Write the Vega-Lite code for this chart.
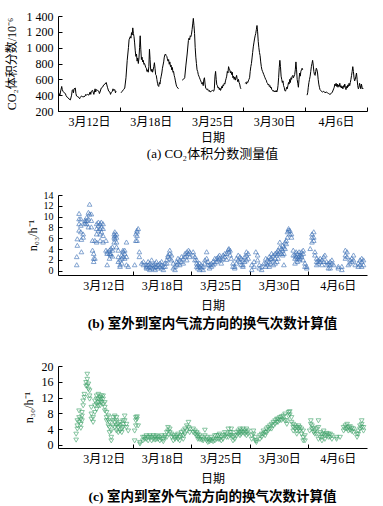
{
"$schema":"https://vega.github.io/schema/vega-lite/v6.json",
"padding":{"left":5,"top":10,"right":5,"bottom":5},
"spacing":29,
"config":{"font":"Liberation Serif, Noto Sans CJK SC","view":{"stroke":null},
 "axis":{"grid":false,"domainColor":"#000","tickColor":"#000","labelColor":"#000","titleColor":"#000","labelFontSize":12,"titleFontSize":12,"titleFontWeight":"normal","tickSize":-4,"labelPadding":9,"domainWidth":1,"tickWidth":1,"labelOverlap":false,"labelFlush":false,"labelBound":false},
 "title":{"color":"#000"}},
"datasets":{
"co2":[
{"seg":1,"s":0.00,"v":410},{"seg":1,"s":0.02,"v":420},{"seg":1,"s":0.03,"v":395},{"seg":1,"s":0.04,"v":440},{"seg":1,"s":0.06,"v":510},{"seg":1,"s":0.07,"v":470},{"seg":1,"s":0.08,"v":450},{"seg":1,"s":0.10,"v":430},{"seg":1,"s":0.12,"v":420},{"seg":1,"s":0.13,"v":395},{"seg":1,"s":0.14,"v":380},{"seg":1,"s":0.16,"v":370},{"seg":1,"s":0.18,"v":350},{"seg":1,"s":0.20,"v":340},{"seg":1,"s":0.22,"v":400},{"seg":1,"s":0.23,"v":460},{"seg":1,"s":0.24,"v":470},{"seg":1,"s":0.25,"v":430},{"seg":1,"s":0.26,"v":480},{"seg":1,"s":0.28,"v":490},{"seg":1,"s":0.29,"v":420},{"seg":1,"s":0.30,"v":390},{"seg":1,"s":0.32,"v":380},{"seg":1,"s":0.34,"v":370},{"seg":1,"s":0.35,"v":355},{"seg":1,"s":0.36,"v":370},{"seg":1,"s":0.38,"v":390},{"seg":1,"s":0.40,"v":380},{"seg":1,"s":0.42,"v":380},{"seg":1,"s":0.44,"v":390},{"seg":1,"s":0.45,"v":410},{"seg":1,"s":0.46,"v":400},{"seg":1,"s":0.48,"v":410},{"seg":1,"s":0.50,"v":400},{"seg":1,"s":0.52,"v":440},{"seg":1,"s":0.53,"v":410},{"seg":1,"s":0.54,"v":450},{"seg":1,"s":0.56,"v":460},{"seg":1,"s":0.58,"v":410},{"seg":1,"s":0.60,"v":480},{"seg":1,"s":0.61,"v":440},{"seg":1,"s":0.62,"v":470},{"seg":1,"s":0.64,"v":460},{"seg":1,"s":0.66,"v":450},{"seg":1,"s":0.67,"v":420},{"seg":1,"s":0.68,"v":440},{"seg":1,"s":0.70,"v":490},{"seg":1,"s":0.72,"v":500},{"seg":1,"s":0.74,"v":530},{"seg":1,"s":0.76,"v":540},{"seg":1,"s":0.78,"v":560},{"seg":1,"s":0.80,"v":500},{"seg":1,"s":0.82,"v":450},{"seg":1,"s":0.84,"v":440},{"seg":1,"s":0.85,"v":410},{"seg":1,"s":0.86,"v":430},{"seg":1,"s":0.88,"v":450},{"seg":1,"s":0.89,"v":480},{"seg":1,"s":0.90,"v":460},{"seg":1,"s":0.92,"v":470},{"seg":1,"s":0.93,"v":430},{"seg":1,"s":0.94,"v":450},
{"seg":2,"s":1.02,"v":430},{"seg":2,"s":1.04,"v":450},{"seg":2,"s":1.06,"v":470},{"seg":2,"s":1.08,"v":490},{"seg":2,"s":1.10,"v":620},{"seg":2,"s":1.12,"v":840},{"seg":2,"s":1.14,"v":1000},{"seg":2,"s":1.15,"v":1100},{"seg":2,"s":1.17,"v":1140},{"seg":2,"s":1.18,"v":1120},{"seg":2,"s":1.19,"v":1190},{"seg":2,"s":1.20,"v":1160},{"seg":2,"s":1.21,"v":1250},{"seg":2,"s":1.22,"v":1180},{"seg":2,"s":1.23,"v":1140},{"seg":2,"s":1.24,"v":1060},{"seg":2,"s":1.25,"v":960},{"seg":2,"s":1.26,"v":890},{"seg":2,"s":1.27,"v":920},{"seg":2,"s":1.28,"v":830},{"seg":2,"s":1.29,"v":870},{"seg":2,"s":1.30,"v":800},{"seg":2,"s":1.31,"v":870},{"seg":2,"s":1.32,"v":1000},{"seg":2,"s":1.33,"v":1150},{"seg":2,"s":1.34,"v":980},{"seg":2,"s":1.35,"v":850},{"seg":2,"s":1.36,"v":880},{"seg":2,"s":1.37,"v":820},{"seg":2,"s":1.38,"v":840},{"seg":2,"s":1.39,"v":790},{"seg":2,"s":1.40,"v":800},{"seg":2,"s":1.42,"v":750},{"seg":2,"s":1.43,"v":740},{"seg":2,"s":1.44,"v":700},{"seg":2,"s":1.45,"v":720},{"seg":2,"s":1.46,"v":690},{"seg":2,"s":1.47,"v":760},{"seg":2,"s":1.48,"v":980},{"seg":2,"s":1.49,"v":850},{"seg":2,"s":1.50,"v":720},{"seg":2,"s":1.51,"v":700},{"seg":2,"s":1.52,"v":730},{"seg":2,"s":1.53,"v":690},{"seg":2,"s":1.54,"v":720},{"seg":2,"s":1.55,"v":760},{"seg":2,"s":1.56,"v":810},{"seg":2,"s":1.57,"v":740},{"seg":2,"s":1.58,"v":660},{"seg":2,"s":1.59,"v":650},{"seg":2,"s":1.60,"v":600},{"seg":2,"s":1.61,"v":550},{"seg":2,"s":1.62,"v":520},{"seg":2,"s":1.63,"v":510},{"seg":2,"s":1.64,"v":560},{"seg":2,"s":1.65,"v":540},{"seg":2,"s":1.66,"v":600},{"seg":2,"s":1.67,"v":640},{"seg":2,"s":1.68,"v":680},{"seg":2,"s":1.69,"v":740},{"seg":2,"s":1.70,"v":780},{"seg":2,"s":1.71,"v":820},{"seg":2,"s":1.72,"v":880},{"seg":2,"s":1.73,"v":910},{"seg":2,"s":1.74,"v":920},{"seg":2,"s":1.75,"v":900},{"seg":2,"s":1.76,"v":890},{"seg":2,"s":1.77,"v":860},{"seg":2,"s":1.78,"v":830},{"seg":2,"s":1.79,"v":850},{"seg":2,"s":1.80,"v":790},{"seg":2,"s":1.81,"v":820},{"seg":2,"s":1.82,"v":760},{"seg":2,"s":1.83,"v":780},{"seg":2,"s":1.84,"v":720},{"seg":2,"s":1.85,"v":750},{"seg":2,"s":1.86,"v":690},{"seg":2,"s":1.87,"v":700},{"seg":2,"s":1.88,"v":650},{"seg":2,"s":1.89,"v":620},{"seg":2,"s":1.90,"v":580},{"seg":2,"s":1.91,"v":540},{"seg":2,"s":1.92,"v":510},{"seg":2,"s":1.94,"v":490},{"seg":2,"s":1.95,"v":480},
{"seg":3,"s":2.01,"v":590},{"seg":3,"s":2.03,"v":600},{"seg":3,"s":2.05,"v":620},{"seg":3,"s":2.07,"v":780},{"seg":3,"s":2.09,"v":920},{"seg":3,"s":2.11,"v":1090},{"seg":3,"s":2.12,"v":1120},{"seg":3,"s":2.13,"v":1100},{"seg":3,"s":2.14,"v":1150},{"seg":3,"s":2.15,"v":1140},{"seg":3,"s":2.16,"v":1170},{"seg":3,"s":2.17,"v":1230},{"seg":3,"s":2.18,"v":1300},{"seg":3,"s":2.19,"v":1370},{"seg":3,"s":2.20,"v":1280},{"seg":3,"s":2.21,"v":1180},{"seg":3,"s":2.22,"v":1000},{"seg":3,"s":2.23,"v":880},{"seg":3,"s":2.24,"v":800},{"seg":3,"s":2.25,"v":720},{"seg":3,"s":2.26,"v":700},{"seg":3,"s":2.27,"v":660},{"seg":3,"s":2.28,"v":640},{"seg":3,"s":2.29,"v":620},{"seg":3,"s":2.30,"v":600},{"seg":3,"s":2.31,"v":580},{"seg":3,"s":2.32,"v":560},{"seg":3,"s":2.33,"v":540},{"seg":3,"s":2.34,"v":560},{"seg":3,"s":2.35,"v":520},{"seg":3,"s":2.36,"v":600},{"seg":3,"s":2.37,"v":620},{"seg":3,"s":2.38,"v":540},{"seg":3,"s":2.39,"v":490},{"seg":3,"s":2.40,"v":480},{"seg":3,"s":2.41,"v":470},{"seg":3,"s":2.42,"v":480},{"seg":3,"s":2.43,"v":460},{"seg":3,"s":2.44,"v":450},{"seg":3,"s":2.45,"v":460},{"seg":3,"s":2.46,"v":440},{"seg":3,"s":2.48,"v":450},{"seg":3,"s":2.50,"v":460},{"seg":3,"s":2.52,"v":450},{"seg":3,"s":2.53,"v":480},{"seg":3,"s":2.54,"v":640},{"seg":3,"s":2.55,"v":700},{"seg":3,"s":2.56,"v":600},{"seg":3,"s":2.57,"v":530},{"seg":3,"s":2.58,"v":520},{"seg":3,"s":2.59,"v":490},{"seg":3,"s":2.60,"v":500},{"seg":3,"s":2.61,"v":470},{"seg":3,"s":2.62,"v":490},{"seg":3,"s":2.63,"v":460},{"seg":3,"s":2.64,"v":480},{"seg":3,"s":2.65,"v":510},{"seg":3,"s":2.66,"v":490},{"seg":3,"s":2.67,"v":530},{"seg":3,"s":2.68,"v":520},{"seg":3,"s":2.69,"v":550},{"seg":3,"s":2.70,"v":540},{"seg":3,"s":2.71,"v":580},{"seg":3,"s":2.72,"v":610},{"seg":3,"s":2.73,"v":640},{"seg":3,"s":2.74,"v":700},{"seg":3,"s":2.75,"v":680},{"seg":3,"s":2.76,"v":760},{"seg":3,"s":2.77,"v":730},{"seg":3,"s":2.78,"v":720},{"seg":3,"s":2.79,"v":680},{"seg":3,"s":2.80,"v":700},{"seg":3,"s":2.81,"v":660},{"seg":3,"s":2.82,"v":690},{"seg":3,"s":2.83,"v":620},{"seg":3,"s":2.84,"v":640},{"seg":3,"s":2.85,"v":600},{"seg":3,"s":2.86,"v":630},{"seg":3,"s":2.87,"v":590},{"seg":3,"s":2.88,"v":620},{"seg":3,"s":2.89,"v":650},{"seg":3,"s":2.90,"v":600},{"seg":3,"s":2.91,"v":570},{"seg":3,"s":2.92,"v":600},{"seg":3,"s":2.93,"v":560},{"seg":3,"s":2.94,"v":540},{"seg":3,"s":2.95,"v":500},{"seg":3,"s":2.96,"v":480},
{"seg":4,"s":3.03,"v":550},{"seg":4,"s":3.04,"v":560},{"seg":4,"s":3.05,"v":540},{"seg":4,"s":3.06,"v":570},{"seg":4,"s":3.07,"v":560},{"seg":4,"s":3.08,"v":580},{"seg":4,"s":3.09,"v":600},{"seg":4,"s":3.10,"v":620},{"seg":4,"s":3.11,"v":700},{"seg":4,"s":3.12,"v":760},{"seg":4,"s":3.13,"v":800},{"seg":4,"s":3.14,"v":870},{"seg":4,"s":3.15,"v":940},{"seg":4,"s":3.16,"v":1010},{"seg":4,"s":3.17,"v":1060},{"seg":4,"s":3.18,"v":1110},{"seg":4,"s":3.19,"v":1150},{"seg":4,"s":3.20,"v":1180},{"seg":4,"s":3.21,"v":1230},{"seg":4,"s":3.22,"v":1280},{"seg":4,"s":3.23,"v":1200},{"seg":4,"s":3.24,"v":1080},{"seg":4,"s":3.25,"v":1000},{"seg":4,"s":3.26,"v":940},{"seg":4,"s":3.27,"v":900},{"seg":4,"s":3.28,"v":820},{"seg":4,"s":3.29,"v":760},{"seg":4,"s":3.30,"v":720},{"seg":4,"s":3.31,"v":700},{"seg":4,"s":3.32,"v":680},{"seg":4,"s":3.33,"v":660},{"seg":4,"s":3.34,"v":640},{"seg":4,"s":3.35,"v":620},{"seg":4,"s":3.36,"v":600},{"seg":4,"s":3.37,"v":590},{"seg":4,"s":3.38,"v":560},{"seg":4,"s":3.39,"v":550},{"seg":4,"s":3.40,"v":530},{"seg":4,"s":3.41,"v":540},{"seg":4,"s":3.42,"v":510},{"seg":4,"s":3.43,"v":520},{"seg":4,"s":3.44,"v":490},{"seg":4,"s":3.45,"v":500},{"seg":4,"s":3.46,"v":470},{"seg":4,"s":3.47,"v":460},{"seg":4,"s":3.48,"v":450},{"seg":4,"s":3.49,"v":460},{"seg":4,"s":3.50,"v":440},{"seg":4,"s":3.51,"v":450},{"seg":4,"s":3.52,"v":440},{"seg":4,"s":3.53,"v":460},{"seg":4,"s":3.54,"v":440},{"seg":4,"s":3.55,"v":460},{"seg":4,"s":3.56,"v":520},{"seg":4,"s":3.57,"v":620},{"seg":4,"s":3.58,"v":750},{"seg":4,"s":3.59,"v":840},{"seg":4,"s":3.60,"v":760},{"seg":4,"s":3.61,"v":640},{"seg":4,"s":3.62,"v":600},{"seg":4,"s":3.63,"v":560},{"seg":4,"s":3.64,"v":580},{"seg":4,"s":3.65,"v":520},{"seg":4,"s":3.66,"v":500},{"seg":4,"s":3.67,"v":460},{"seg":4,"s":3.68,"v":450},{"seg":4,"s":3.69,"v":470},{"seg":4,"s":3.70,"v":500},{"seg":4,"s":3.71,"v":480},{"seg":4,"s":3.72,"v":520},{"seg":4,"s":3.73,"v":560},{"seg":4,"s":3.74,"v":540},{"seg":4,"s":3.75,"v":600},{"seg":4,"s":3.76,"v":560},{"seg":4,"s":3.77,"v":620},{"seg":4,"s":3.78,"v":600},{"seg":4,"s":3.79,"v":640},{"seg":4,"s":3.80,"v":650},{"seg":4,"s":3.81,"v":620},{"seg":4,"s":3.82,"v":640},{"seg":4,"s":3.83,"v":660},{"seg":4,"s":3.84,"v":720},{"seg":4,"s":3.85,"v":820},{"seg":4,"s":3.86,"v":720},{"seg":4,"s":3.87,"v":600},{"seg":4,"s":3.88,"v":550},{"seg":4,"s":3.89,"v":500},{"seg":4,"s":3.90,"v":600},{"seg":4,"s":3.91,"v":680},{"seg":4,"s":3.92,"v":640},{"seg":4,"s":3.93,"v":700},{"seg":4,"s":3.94,"v":720},{"seg":4,"s":3.95,"v":740},{"seg":4,"s":3.96,"v":720},
{"seg":5,"s":4.03,"v":400},{"seg":5,"s":4.04,"v":430},{"seg":5,"s":4.05,"v":500},{"seg":5,"s":4.06,"v":560},{"seg":5,"s":4.07,"v":600},{"seg":5,"s":4.08,"v":640},{"seg":5,"s":4.09,"v":700},{"seg":5,"s":4.10,"v":760},{"seg":5,"s":4.11,"v":800},{"seg":5,"s":4.12,"v":840},{"seg":5,"s":4.13,"v":780},{"seg":5,"s":4.14,"v":700},{"seg":5,"s":4.15,"v":660},{"seg":5,"s":4.16,"v":650},{"seg":5,"s":4.17,"v":700},{"seg":5,"s":4.18,"v":740},{"seg":5,"s":4.19,"v":720},{"seg":5,"s":4.20,"v":680},{"seg":5,"s":4.21,"v":600},{"seg":5,"s":4.22,"v":540},{"seg":5,"s":4.23,"v":500},{"seg":5,"s":4.24,"v":470},{"seg":5,"s":4.25,"v":460},{"seg":5,"s":4.26,"v":450},{"seg":5,"s":4.28,"v":440},{"seg":5,"s":4.30,"v":450},{"seg":5,"s":4.32,"v":430},{"seg":5,"s":4.34,"v":440},{"seg":5,"s":4.36,"v":430},{"seg":5,"s":4.38,"v":420},{"seg":5,"s":4.40,"v":410},{"seg":5,"s":4.42,"v":420},{"seg":5,"s":4.44,"v":440},{"seg":5,"s":4.46,"v":480},{"seg":5,"s":4.47,"v":500},{"seg":5,"s":4.48,"v":540},{"seg":5,"s":4.49,"v":520},{"seg":5,"s":4.50,"v":550},{"seg":5,"s":4.51,"v":510},{"seg":5,"s":4.52,"v":540},{"seg":5,"s":4.53,"v":500},{"seg":5,"s":4.54,"v":530},{"seg":5,"s":4.55,"v":510},{"seg":5,"s":4.56,"v":550},{"seg":5,"s":4.57,"v":500},{"seg":5,"s":4.58,"v":520},{"seg":5,"s":4.59,"v":490},{"seg":5,"s":4.60,"v":510},{"seg":5,"s":4.61,"v":480},{"seg":5,"s":4.62,"v":520},{"seg":5,"s":4.63,"v":500},{"seg":5,"s":4.64,"v":540},{"seg":5,"s":4.65,"v":500},{"seg":5,"s":4.66,"v":470},{"seg":5,"s":4.67,"v":510},{"seg":5,"s":4.68,"v":490},{"seg":5,"s":4.69,"v":530},{"seg":5,"s":4.70,"v":510},{"seg":5,"s":4.71,"v":550},{"seg":5,"s":4.72,"v":520},{"seg":5,"s":4.73,"v":560},{"seg":5,"s":4.74,"v":600},{"seg":5,"s":4.75,"v":650},{"seg":5,"s":4.76,"v":700},{"seg":5,"s":4.77,"v":760},{"seg":5,"s":4.78,"v":700},{"seg":5,"s":4.79,"v":620},{"seg":5,"s":4.80,"v":580},{"seg":5,"s":4.81,"v":600},{"seg":5,"s":4.82,"v":640},{"seg":5,"s":4.83,"v":680},{"seg":5,"s":4.84,"v":600},{"seg":5,"s":4.85,"v":520},{"seg":5,"s":4.86,"v":480},{"seg":5,"s":4.87,"v":500},{"seg":5,"s":4.88,"v":550},{"seg":5,"s":4.89,"v":520},{"seg":5,"s":4.90,"v":480},{"seg":5,"s":4.91,"v":540},{"seg":5,"s":4.92,"v":500},{"seg":5,"s":4.93,"v":480},{"seg":5,"s":4.94,"v":490}
],
"n03":[
{"s":0.04,"n":1.1},{"s":0.04,"n":2.6},{"s":0.05,"n":4.7},{"s":0.05,"n":5.9},{"s":0.08,"n":7.5},{"s":0.08,"n":8.7},{"s":0.08,"n":9.6},{"s":0.08,"n":10.6},{"s":0.11,"n":9.6},{"s":0.11,"n":8.4},{"s":0.11,"n":7.2},{"s":0.12,"n":3.5},{"s":0.12,"n":5.8},{"s":0.15,"n":6.8},{"s":0.15,"n":6.2},{"s":0.18,"n":8.7},{"s":0.18,"n":9.3},{"s":0.18,"n":9.0},{"s":0.21,"n":9.3},{"s":0.21,"n":8.7},{"s":0.21,"n":9.9},{"s":0.24,"n":10.8},{"s":0.24,"n":9.6},{"s":0.24,"n":8.1},{"s":0.26,"n":12.3},{"s":0.26,"n":10.5},{"s":0.29,"n":10.5},{"s":0.29,"n":9.3},{"s":0.29,"n":8.1},{"s":0.31,"n":5.6},{"s":0.31,"n":3.8},{"s":0.33,"n":3.2},{"s":0.33,"n":2.3},{"s":0.33,"n":1.7},{"s":0.35,"n":5.6},{"s":0.35,"n":2.3},{"s":0.38,"n":8.7},{"s":0.38,"n":7.8},{"s":0.38,"n":6.8},{"s":0.38,"n":5.3},{"s":0.41,"n":9.0},{"s":0.41,"n":8.4},{"s":0.41,"n":7.5},{"s":0.44,"n":8.7},{"s":0.44,"n":7.8},{"s":0.44,"n":6.8},{"s":0.44,"n":5.6},{"s":0.46,"n":9.0},{"s":0.46,"n":8.1},{"s":0.46,"n":7.2},{"s":0.49,"n":8.7},{"s":0.49,"n":7.8},{"s":0.49,"n":6.5},{"s":0.49,"n":5.3},{"s":0.54,"n":5.6},{"s":0.54,"n":3.8},{"s":0.56,"n":3.5},{"s":0.56,"n":3.2},{"s":0.56,"n":1.1},{"s":0.60,"n":3.8},{"s":0.60,"n":3.2},{"s":0.60,"n":2.3},{"s":0.62,"n":4.1},{"s":0.62,"n":3.2},{"s":0.62,"n":2.9},{"s":0.65,"n":3.8},{"s":0.65,"n":4.4},{"s":0.65,"n":2.7},{"s":0.68,"n":6.2},{"s":0.68,"n":5.3},{"s":0.68,"n":6.8},{"s":0.69,"n":7.2},{"s":0.69,"n":6.5},{"s":0.69,"n":5.9},{"s":0.72,"n":6.8},{"s":0.72,"n":6.2},{"s":0.72,"n":5.3},{"s":0.72,"n":4.4},{"s":0.75,"n":3.8},{"s":0.75,"n":2.6},{"s":0.75,"n":1.7},{"s":0.78,"n":2.0},{"s":0.78,"n":1.1},{"s":0.78,"n":0.8},{"s":0.81,"n":1.4},{"s":0.81,"n":2.3},{"s":0.81,"n":2.9},{"s":0.83,"n":2.6},{"s":0.83,"n":3.5},{"s":0.83,"n":3.8},{"s":0.86,"n":3.8},{"s":0.86,"n":3.2},{"s":0.86,"n":2.3},{"s":0.89,"n":5.3},{"s":0.89,"n":2.6},{"s":0.89,"n":1.1},{"s":0.92,"n":0.8},
{"s":1.03,"n":1.1},{"s":1.05,"n":6.8},{"s":1.05,"n":5.6},{"s":1.07,"n":7.5},{"s":1.07,"n":7.2},{"s":1.07,"n":6.5},{"s":1.07,"n":5.6},{"s":1.09,"n":7.8},{"s":1.11,"n":3.5},{"s":1.11,"n":2.6},{"s":1.15,"n":1.4},{"s":1.18,"n":1.7},{"s":1.18,"n":1.1},{"s":1.23,"n":1.1},{"s":1.23,"n":0.5},{"s":1.23,"n":0.8},{"s":1.26,"n":1.7},{"s":1.26,"n":1.1},{"s":1.26,"n":0.5},{"s":1.29,"n":1.4},{"s":1.29,"n":0.8},{"s":1.29,"n":0.2},{"s":1.32,"n":2.0},{"s":1.32,"n":1.1},{"s":1.32,"n":0.5},{"s":1.35,"n":1.1},{"s":1.35,"n":0.5},{"s":1.38,"n":1.4},{"s":1.38,"n":0.8},{"s":1.38,"n":0.2},{"s":1.40,"n":1.7},{"s":1.40,"n":0.8},{"s":1.43,"n":1.1},{"s":1.43,"n":0.5},{"s":1.46,"n":1.4},{"s":1.46,"n":0.8},{"s":1.49,"n":1.7},{"s":1.49,"n":1.1},{"s":1.49,"n":0.5},{"s":1.52,"n":0.8},{"s":1.52,"n":0.2},{"s":1.55,"n":1.4},{"s":1.55,"n":0.8},{"s":1.58,"n":2.0},{"s":1.58,"n":1.4},{"s":1.60,"n":2.9},{"s":1.60,"n":2.6},{"s":1.63,"n":3.8},{"s":1.63,"n":3.2},{"s":1.63,"n":2.3},{"s":1.66,"n":2.9},{"s":1.66,"n":2.0},{"s":1.69,"n":1.4},{"s":1.69,"n":0.5},{"s":1.72,"n":0.8},{"s":1.72,"n":0.2},{"s":1.75,"n":1.7},{"s":1.75,"n":1.1},{"s":1.77,"n":2.3},{"s":1.77,"n":1.4},{"s":1.80,"n":2.0},{"s":1.80,"n":1.1},{"s":1.83,"n":2.6},{"s":1.83,"n":1.7},{"s":1.86,"n":2.3},{"s":1.86,"n":1.4},{"s":1.89,"n":2.6},{"s":1.89,"n":3.2},{"s":1.92,"n":3.5},{"s":1.92,"n":2.9},{"s":1.92,"n":2.0},{"s":1.95,"n":3.8},{"s":1.95,"n":3.2},{"s":1.97,"n":3.5},{"s":1.97,"n":2.6},
{"s":2.03,"n":3.5},{"s":2.03,"n":2.9},{"s":2.06,"n":2.6},{"s":2.06,"n":2.0},{"s":2.09,"n":2.0},{"s":2.09,"n":1.4},{"s":2.09,"n":0.8},{"s":2.11,"n":1.1},{"s":2.11,"n":0.5},{"s":2.14,"n":1.4},{"s":2.14,"n":0.8},{"s":2.14,"n":0.2},{"s":2.17,"n":1.1},{"s":2.17,"n":0.5},{"s":2.20,"n":0.8},{"s":2.20,"n":0.2},{"s":2.23,"n":2.0},{"s":2.23,"n":1.4},{"s":2.26,"n":3.5},{"s":2.26,"n":2.3},{"s":2.28,"n":1.7},{"s":2.28,"n":1.1},{"s":2.31,"n":1.1},{"s":2.31,"n":0.5},{"s":2.34,"n":1.4},{"s":2.34,"n":0.8},{"s":2.37,"n":1.7},{"s":2.37,"n":1.1},{"s":2.40,"n":2.3},{"s":2.40,"n":1.4},{"s":2.43,"n":2.3},{"s":2.43,"n":1.7},{"s":2.46,"n":2.6},{"s":2.46,"n":2.0},{"s":2.48,"n":2.9},{"s":2.48,"n":2.3},{"s":2.51,"n":2.0},{"s":2.51,"n":1.4},{"s":2.54,"n":2.9},{"s":2.54,"n":2.3},{"s":2.57,"n":3.2},{"s":2.57,"n":2.6},{"s":2.60,"n":3.2},{"s":2.60,"n":2.1},{"s":2.63,"n":3.9},{"s":2.64,"n":4.1},{"s":2.64,"n":3.5},{"s":2.66,"n":3.8},{"s":2.66,"n":2.9},{"s":2.68,"n":2.3},{"s":2.71,"n":1.4},{"s":2.71,"n":0.8},{"s":2.74,"n":0.8},{"s":2.74,"n":0.5},{"s":2.77,"n":2.3},{"s":2.77,"n":1.4},{"s":2.80,"n":2.9},{"s":2.80,"n":2.0},{"s":2.83,"n":2.6},{"s":2.83,"n":1.7},{"s":2.85,"n":2.3},{"s":2.85,"n":1.1},{"s":2.88,"n":2.0},{"s":2.88,"n":1.1},{"s":2.88,"n":0.8},{"s":2.91,"n":2.6},{"s":2.91,"n":1.7},{"s":2.94,"n":3.5},{"s":2.94,"n":2.9},{"s":2.94,"n":2.0},{"s":2.97,"n":3.2},{"s":2.97,"n":2.3},
{"s":3.03,"n":1.1},{"s":3.03,"n":0.2},{"s":3.07,"n":1.7},{"s":3.07,"n":0.8},{"s":3.10,"n":3.5},{"s":3.13,"n":2.9},{"s":3.13,"n":2.0},{"s":3.16,"n":1.1},{"s":3.16,"n":0.5},{"s":3.20,"n":0.8},{"s":3.20,"n":0.2},{"s":3.24,"n":1.4},{"s":3.27,"n":2.3},{"s":3.27,"n":1.4},{"s":3.27,"n":0.8},{"s":3.30,"n":2.0},{"s":3.30,"n":1.1},{"s":3.33,"n":2.6},{"s":3.33,"n":1.7},{"s":3.33,"n":0.8},{"s":3.35,"n":2.3},{"s":3.35,"n":1.4},{"s":3.37,"n":3.2},{"s":3.37,"n":2.3},{"s":3.40,"n":2.9},{"s":3.40,"n":2.0},{"s":3.40,"n":1.1},{"s":3.43,"n":3.2},{"s":3.43,"n":2.3},{"s":3.43,"n":1.4},{"s":3.46,"n":3.5},{"s":3.46,"n":2.9},{"s":3.46,"n":1.7},{"s":3.48,"n":3.8},{"s":3.48,"n":3.2},{"s":3.48,"n":2.3},{"s":3.51,"n":5.3},{"s":3.51,"n":4.4},{"s":3.51,"n":3.5},{"s":3.54,"n":4.1},{"s":3.54,"n":3.2},{"s":3.56,"n":4.7},{"s":3.56,"n":3.8},{"s":3.56,"n":2.9},{"s":3.58,"n":4.4},{"s":3.58,"n":3.2},{"s":3.58,"n":1.1},{"s":3.60,"n":5.3},{"s":3.60,"n":4.1},{"s":3.62,"n":5.6},{"s":3.62,"n":5.0},{"s":3.64,"n":6.2},{"s":3.64,"n":7.2},{"s":3.66,"n":7.8},{"s":3.66,"n":7.5},{"s":3.68,"n":7.5},{"s":3.68,"n":6.8},{"s":3.71,"n":6.8},{"s":3.71,"n":6.2},{"s":3.74,"n":3.8},{"s":3.74,"n":2.9},{"s":3.77,"n":2.9},{"s":3.77,"n":2.3},{"s":3.77,"n":1.4},{"s":3.79,"n":3.5},{"s":3.79,"n":2.6},{"s":3.81,"n":3.2},{"s":3.81,"n":2.3},{"s":3.81,"n":1.7},{"s":3.84,"n":3.5},{"s":3.84,"n":2.6},{"s":3.84,"n":2.0},{"s":3.85,"n":2.9},{"s":3.85,"n":2.3},{"s":3.88,"n":3.5},{"s":3.88,"n":2.9},{"s":3.88,"n":2.6},{"s":3.91,"n":3.8},{"s":3.91,"n":3.2},{"s":3.91,"n":2.0},{"s":3.94,"n":1.4},{"s":3.94,"n":0.8},{"s":3.97,"n":0.8},{"s":3.97,"n":0.5},
{"s":4.03,"n":4.1},{"s":4.06,"n":5.3},{"s":4.06,"n":6.2},{"s":4.06,"n":6.8},{"s":4.09,"n":7.2},{"s":4.09,"n":6.2},{"s":4.09,"n":5.6},{"s":4.11,"n":3.5},{"s":4.11,"n":2.9},{"s":4.14,"n":2.3},{"s":4.14,"n":1.7},{"s":4.14,"n":1.1},{"s":4.17,"n":2.0},{"s":4.17,"n":1.4},{"s":4.20,"n":2.3},{"s":4.20,"n":1.7},{"s":4.23,"n":2.0},{"s":4.23,"n":1.1},{"s":4.26,"n":1.7},{"s":4.26,"n":2.6},{"s":4.28,"n":2.9},{"s":4.31,"n":1.7},{"s":4.31,"n":1.1},{"s":4.34,"n":1.4},{"s":4.34,"n":0.5},{"s":4.37,"n":1.7},{"s":4.37,"n":1.1},{"s":4.37,"n":0.5},{"s":4.40,"n":2.0},{"s":4.40,"n":1.4},{"s":4.43,"n":1.1},{"s":4.51,"n":0.5},{"s":4.51,"n":0.8},{"s":4.57,"n":0.8},{"s":4.57,"n":0.2},{"s":4.63,"n":2.3},{"s":4.63,"n":2.9},{"s":4.63,"n":3.8},{"s":4.66,"n":3.5},{"s":4.66,"n":2.6},{"s":4.68,"n":1.1},{"s":4.71,"n":2.0},{"s":4.71,"n":1.4},{"s":4.74,"n":2.3},{"s":4.74,"n":1.7},{"s":4.77,"n":2.9},{"s":4.77,"n":2.0},{"s":4.80,"n":1.1},{"s":4.85,"n":1.4},{"s":4.85,"n":0.8},{"s":4.88,"n":2.0},{"s":4.88,"n":1.1},{"s":4.91,"n":2.3},{"s":4.91,"n":1.7},{"s":4.91,"n":0.8},{"s":4.94,"n":2.0},{"s":4.94,"n":1.1}
],
"n30":[
{"s":0.03,"n":1.2},{"s":0.03,"n":2.7},{"s":0.05,"n":4.0},{"s":0.05,"n":4.8},{"s":0.05,"n":6.1},{"s":0.08,"n":8.6},{"s":0.08,"n":6.9},{"s":0.08,"n":5.7},{"s":0.11,"n":6.5},{"s":0.11,"n":5.2},{"s":0.11,"n":4.2},{"s":0.13,"n":6.1},{"s":0.13,"n":7.3},{"s":0.13,"n":8.2},{"s":0.15,"n":9.9},{"s":0.15,"n":11.1},{"s":0.17,"n":12.0},{"s":0.17,"n":12.8},{"s":0.20,"n":14.9},{"s":0.20,"n":15.8},{"s":0.22,"n":17.9},{"s":0.22,"n":16.6},{"s":0.22,"n":14.9},{"s":0.24,"n":15.4},{"s":0.24,"n":14.1},{"s":0.26,"n":13.7},{"s":0.26,"n":12.4},{"s":0.26,"n":11.6},{"s":0.29,"n":9.5},{"s":0.29,"n":7.8},{"s":0.29,"n":6.5},{"s":0.32,"n":5.7},{"s":0.32,"n":6.9},{"s":0.35,"n":8.2},{"s":0.35,"n":9.9},{"s":0.35,"n":11.1},{"s":0.38,"n":12.4},{"s":0.38,"n":11.6},{"s":0.38,"n":10.3},{"s":0.38,"n":9.0},{"s":0.41,"n":12.8},{"s":0.41,"n":11.6},{"s":0.41,"n":10.7},{"s":0.41,"n":9.9},{"s":0.44,"n":12.0},{"s":0.44,"n":11.1},{"s":0.44,"n":9.9},{"s":0.46,"n":12.4},{"s":0.46,"n":11.6},{"s":0.46,"n":10.7},{"s":0.49,"n":12.4},{"s":0.49,"n":11.6},{"s":0.49,"n":10.3},{"s":0.52,"n":10.7},{"s":0.52,"n":9.5},{"s":0.52,"n":8.6},{"s":0.55,"n":8.2},{"s":0.55,"n":6.9},{"s":0.55,"n":6.1},{"s":0.58,"n":7.3},{"s":0.58,"n":6.1},{"s":0.58,"n":4.8},{"s":0.60,"n":5.7},{"s":0.60,"n":4.4},{"s":0.60,"n":3.1},{"s":0.63,"n":1.9},{"s":0.63,"n":1.0},{"s":0.63,"n":3.5},{"s":0.66,"n":4.8},{"s":0.66,"n":6.1},{"s":0.66,"n":6.9},{"s":0.69,"n":7.3},{"s":0.69,"n":5.7},{"s":0.69,"n":4.4},{"s":0.72,"n":6.9},{"s":0.72,"n":6.1},{"s":0.72,"n":4.8},{"s":0.72,"n":3.5},{"s":0.75,"n":5.2},{"s":0.75,"n":4.4},{"s":0.75,"n":3.1},{"s":0.78,"n":5.7},{"s":0.78,"n":4.8},{"s":0.78,"n":3.5},{"s":0.81,"n":4.0},{"s":0.81,"n":3.1},{"s":0.83,"n":6.1},{"s":0.83,"n":5.2},{"s":0.83,"n":4.4},{"s":0.86,"n":7.3},{"s":0.86,"n":6.1},{"s":0.89,"n":5.2},{"s":0.89,"n":4.4},{"s":0.92,"n":3.5},
{"s":1.03,"n":3.5},{"s":1.03,"n":1.0},{"s":1.05,"n":6.9},{"s":1.05,"n":6.1},{"s":1.05,"n":4.8},{"s":1.07,"n":7.1},{"s":1.07,"n":6.5},{"s":1.09,"n":4.8},{"s":1.12,"n":0.6},{"s":1.12,"n":0.2},{"s":1.17,"n":1.0},{"s":1.17,"n":1.9},{"s":1.20,"n":1.9},{"s":1.20,"n":1.4},{"s":1.23,"n":2.3},{"s":1.23,"n":1.4},{"s":1.26,"n":1.9},{"s":1.26,"n":1.0},{"s":1.29,"n":2.3},{"s":1.29,"n":1.9},{"s":1.32,"n":1.9},{"s":1.32,"n":1.0},{"s":1.35,"n":2.3},{"s":1.35,"n":1.4},{"s":1.38,"n":1.9},{"s":1.38,"n":1.2},{"s":1.40,"n":2.3},{"s":1.40,"n":1.4},{"s":1.43,"n":2.0},{"s":1.43,"n":1.4},{"s":1.46,"n":1.9},{"s":1.46,"n":1.0},{"s":1.49,"n":2.3},{"s":1.49,"n":1.4},{"s":1.52,"n":1.4},{"s":1.52,"n":0.8},{"s":1.55,"n":2.3},{"s":1.55,"n":1.9},{"s":1.58,"n":3.1},{"s":1.58,"n":1.9},{"s":1.60,"n":4.4},{"s":1.60,"n":3.5},{"s":1.63,"n":4.0},{"s":1.63,"n":3.1},{"s":1.66,"n":2.7},{"s":1.66,"n":1.9},{"s":1.69,"n":2.3},{"s":1.69,"n":1.0},{"s":1.72,"n":1.9},{"s":1.72,"n":1.4},{"s":1.75,"n":2.3},{"s":1.75,"n":1.9},{"s":1.77,"n":2.7},{"s":1.77,"n":1.4},{"s":1.80,"n":1.9},{"s":1.80,"n":1.0},{"s":1.83,"n":3.1},{"s":1.83,"n":2.3},{"s":1.86,"n":3.5},{"s":1.86,"n":2.3},{"s":1.86,"n":1.4},{"s":1.89,"n":4.0},{"s":1.89,"n":2.7},{"s":1.92,"n":4.8},{"s":1.92,"n":3.5},{"s":1.95,"n":5.7},{"s":1.95,"n":4.4},{"s":1.97,"n":4.0},{"s":1.97,"n":3.1},
{"s":2.03,"n":4.0},{"s":2.03,"n":3.1},{"s":2.06,"n":3.5},{"s":2.06,"n":2.7},{"s":2.09,"n":3.1},{"s":2.09,"n":2.3},{"s":2.11,"n":2.7},{"s":2.11,"n":1.9},{"s":2.11,"n":1.4},{"s":2.14,"n":2.3},{"s":2.14,"n":1.4},{"s":2.17,"n":1.9},{"s":2.17,"n":1.2},{"s":2.20,"n":1.4},{"s":2.20,"n":1.0},{"s":2.23,"n":3.7},{"s":2.23,"n":2.3},{"s":2.26,"n":1.9},{"s":2.26,"n":1.0},{"s":2.28,"n":1.4},{"s":2.28,"n":0.6},{"s":2.31,"n":1.2},{"s":2.31,"n":0.8},{"s":2.34,"n":1.9},{"s":2.34,"n":1.0},{"s":2.37,"n":1.4},{"s":2.37,"n":0.8},{"s":2.40,"n":2.3},{"s":2.40,"n":1.0},{"s":2.43,"n":2.3},{"s":2.43,"n":1.4},{"s":2.46,"n":2.3},{"s":2.46,"n":1.4},{"s":2.48,"n":2.7},{"s":2.48,"n":1.4},{"s":2.51,"n":1.9},{"s":2.51,"n":1.0},{"s":2.54,"n":2.3},{"s":2.54,"n":1.4},{"s":2.57,"n":3.1},{"s":2.57,"n":2.3},{"s":2.60,"n":2.7},{"s":2.60,"n":1.9},{"s":2.63,"n":4.0},{"s":2.63,"n":1.9},{"s":2.66,"n":3.1},{"s":2.66,"n":2.3},{"s":2.68,"n":4.0},{"s":2.68,"n":3.1},{"s":2.68,"n":2.3},{"s":2.71,"n":1.9},{"s":2.71,"n":1.0},{"s":2.74,"n":2.3},{"s":2.74,"n":1.4},{"s":2.77,"n":3.1},{"s":2.77,"n":2.3},{"s":2.80,"n":3.5},{"s":2.80,"n":2.7},{"s":2.83,"n":4.0},{"s":2.83,"n":3.1},{"s":2.83,"n":2.3},{"s":2.85,"n":3.5},{"s":2.85,"n":2.7},{"s":2.88,"n":4.0},{"s":2.88,"n":3.1},{"s":2.91,"n":3.5},{"s":2.91,"n":2.7},{"s":2.94,"n":4.0},{"s":2.94,"n":3.1},{"s":2.94,"n":2.3},{"s":2.97,"n":3.5},{"s":2.97,"n":2.7},
{"s":3.03,"n":2.3},{"s":3.03,"n":1.4},{"s":3.06,"n":3.5},{"s":3.06,"n":2.7},{"s":3.09,"n":1.9},{"s":3.09,"n":1.0},{"s":3.11,"n":1.0},{"s":3.11,"n":0.6},{"s":3.17,"n":1.4},{"s":3.17,"n":2.3},{"s":3.20,"n":1.9},{"s":3.20,"n":2.7},{"s":3.23,"n":2.7},{"s":3.23,"n":3.5},{"s":3.26,"n":2.3},{"s":3.26,"n":3.1},{"s":3.28,"n":3.1},{"s":3.28,"n":4.0},{"s":3.31,"n":3.5},{"s":3.31,"n":4.4},{"s":3.34,"n":4.0},{"s":3.34,"n":4.8},{"s":3.37,"n":4.0},{"s":3.37,"n":5.2},{"s":3.40,"n":4.8},{"s":3.40,"n":5.7},{"s":3.43,"n":5.2},{"s":3.43,"n":6.1},{"s":3.46,"n":5.7},{"s":3.46,"n":6.5},{"s":3.48,"n":6.5},{"s":3.48,"n":5.7},{"s":3.51,"n":6.9},{"s":3.51,"n":6.1},{"s":3.54,"n":7.1},{"s":3.54,"n":6.2},{"s":3.57,"n":7.3},{"s":3.57,"n":6.5},{"s":3.60,"n":7.8},{"s":3.60,"n":6.1},{"s":3.63,"n":6.1},{"s":3.63,"n":5.2},{"s":3.66,"n":7.3},{"s":3.66,"n":8.2},{"s":3.68,"n":8.4},{"s":3.68,"n":7.6},{"s":3.71,"n":6.9},{"s":3.71,"n":5.7},{"s":3.74,"n":5.2},{"s":3.74,"n":4.4},{"s":3.74,"n":3.5},{"s":3.77,"n":4.8},{"s":3.77,"n":4.0},{"s":3.80,"n":4.4},{"s":3.80,"n":3.5},{"s":3.80,"n":2.7},{"s":3.83,"n":4.8},{"s":3.83,"n":4.0},{"s":3.85,"n":4.4},{"s":3.85,"n":3.5},{"s":3.88,"n":4.0},{"s":3.88,"n":2.7},{"s":3.91,"n":3.5},{"s":3.91,"n":1.9},{"s":3.91,"n":1.0},{"s":3.94,"n":2.3},{"s":3.94,"n":1.0},
{"s":4.02,"n":3.5},{"s":4.04,"n":6.1},{"s":4.04,"n":5.2},{"s":4.06,"n":4.8},{"s":4.06,"n":4.0},{"s":4.09,"n":4.2},{"s":4.09,"n":3.1},{"s":4.11,"n":3.5},{"s":4.11,"n":2.7},{"s":4.14,"n":4.0},{"s":4.14,"n":2.7},{"s":4.17,"n":6.1},{"s":4.17,"n":4.4},{"s":4.17,"n":1.4},{"s":4.20,"n":3.1},{"s":4.20,"n":1.9},{"s":4.23,"n":2.7},{"s":4.23,"n":1.9},{"s":4.23,"n":1.0},{"s":4.26,"n":3.5},{"s":4.26,"n":2.7},{"s":4.28,"n":2.3},{"s":4.28,"n":1.4},{"s":4.31,"n":2.9},{"s":4.31,"n":2.3},{"s":4.34,"n":2.7},{"s":4.34,"n":1.9},{"s":4.37,"n":2.7},{"s":4.37,"n":1.9},{"s":4.40,"n":2.3},{"s":4.40,"n":1.4},{"s":4.48,"n":1.9},{"s":4.48,"n":1.4},{"s":4.54,"n":1.9},{"s":4.60,"n":3.5},{"s":4.60,"n":4.4},{"s":4.63,"n":4.0},{"s":4.63,"n":4.8},{"s":4.66,"n":5.2},{"s":4.66,"n":4.0},{"s":4.68,"n":4.4},{"s":4.68,"n":3.5},{"s":4.71,"n":4.6},{"s":4.71,"n":3.7},{"s":4.74,"n":4.2},{"s":4.74,"n":3.4},{"s":4.77,"n":4.0},{"s":4.77,"n":3.1},{"s":4.83,"n":2.7},{"s":4.83,"n":1.9},{"s":4.85,"n":3.5},{"s":4.85,"n":2.7},{"s":4.88,"n":4.8},{"s":4.88,"n":4.0},{"s":4.91,"n":6.1},{"s":4.91,"n":5.2},{"s":4.91,"n":4.4},{"s":4.94,"n":4.4},{"s":4.94,"n":3.5}
]},
"vconcat":[
{"width":309,"height":95,
 "title":{"text":"(a) CO₂体积分数测量值","orient":"bottom","fontSize":13,"fontWeight":"normal","offset":5},
 "data":{"name":"co2"},
 "mark":{"type":"line","color":"#000","strokeWidth":1},
 "encoding":{
  "x":{"field":"s","type":"quantitative","scale":{"domain":[0,5],"nice":false,"zero":false},
   "axis":{"values":[0,0.5,1,1.5,2,2.5,3,3.5,4,4.5,5],"title":"日期","titlePadding":5,
    "labelExpr":"datum.value==0.5?'3月12日':datum.value==1.5?'3月18日':datum.value==2.5?'3月25日':datum.value==3.5?'3月30日':datum.value==4.5?'4月6日':''",
    "tickOpacity":{"condition":{"test":"datum.value % 1 != 0","value":0},"value":1}}},
  "y":{"field":"v","type":"quantitative","scale":{"domain":[200,1400],"nice":false,"zero":false},
   "axis":{"values":[200,400,600,800,1000,1200,1400],"title":"CO₂体积分数/10⁻⁶","titlePadding":8,
    "labelExpr":"replace(format(datum.value, ','), ',', ' ')"}},
  "detail":{"field":"seg"}}},
{"width":309,"height":80,
 "title":{"text":"(b) 室外到室内气流方向的换气次数计算值","orient":"bottom","fontSize":13.5,"fontWeight":"bold","offset":6},
 "data":{"name":"n03"},
 "mark":{"type":"point","shape":"triangle-up","filled":false,"size":22,"strokeWidth":0.9,"color":"#3b6fb6"},
 "encoding":{
  "x":{"field":"s","type":"quantitative","scale":{"domain":[-0.28,5],"nice":false,"zero":false},
   "axis":{"values":[0.5,1,1.5,2,2.5,3,3.5,4,4.5],"title":"日期","titlePadding":9,
    "labelExpr":"datum.value==0.5?'3月12日':datum.value==1.5?'3月18日':datum.value==2.5?'3月25日':datum.value==3.5?'3月30日':datum.value==4.5?'4月6日':''",
    "tickOpacity":{"condition":{"test":"datum.value % 1 != 0","value":0},"value":1}}},
  "y":{"field":"n","type":"quantitative","scale":{"domain":[-0.8,14],"nice":false,"zero":false},
   "axis":{"values":[0,2,4,6,8,10,12,14],"title":"n₀₃/h⁻¹","titlePadding":4,"labelFontSize":10}}}},
{"width":309,"height":82,
 "title":{"text":"(c) 室内到室外气流方向的换气次数计算值","orient":"bottom","fontSize":13.5,"fontWeight":"bold","offset":6},
 "data":{"name":"n30"},
 "mark":{"type":"point","shape":"triangle-down","filled":false,"size":22,"strokeWidth":0.9,"color":"#3fa36a"},
 "encoding":{
  "x":{"field":"s","type":"quantitative","scale":{"domain":[-0.28,5],"nice":false,"zero":false},
   "axis":{"values":[0.5,1,1.5,2,2.5,3,3.5,4,4.5],"title":"日期","titlePadding":9,
    "labelExpr":"datum.value==0.5?'3月12日':datum.value==1.5?'3月18日':datum.value==2.5?'3月25日':datum.value==3.5?'3月30日':datum.value==4.5?'4月6日':''",
    "tickOpacity":{"condition":{"test":"datum.value % 1 != 0","value":0},"value":1}}},
  "y":{"field":"n","type":"quantitative","scale":{"domain":[-0.8,20],"nice":false,"zero":false},
   "axis":{"values":[0,4,8,12,16,20],"title":"n₃₀/h⁻¹","titlePadding":6}}}}
]}
